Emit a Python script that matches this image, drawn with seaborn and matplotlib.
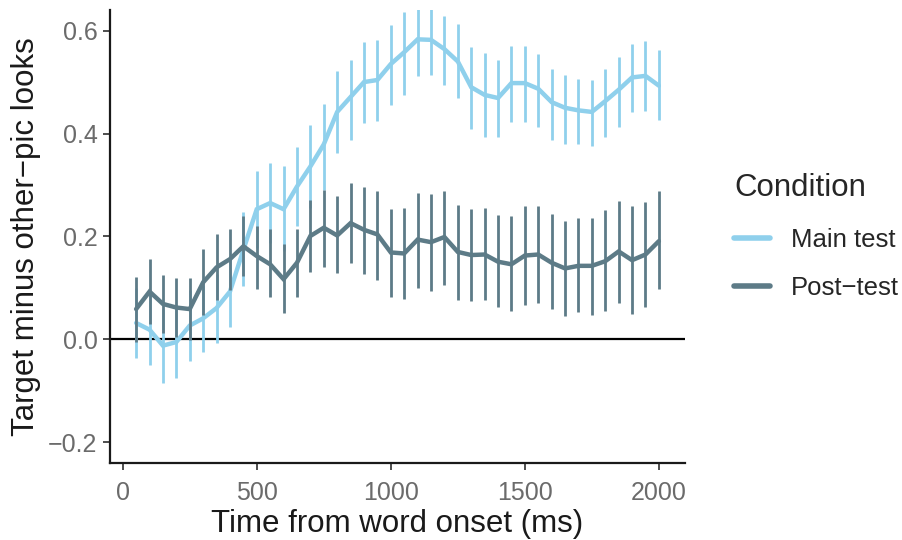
import numpy as np
import pandas as pd
import seaborn as sns
import matplotlib
matplotlib.use("Agg")
import matplotlib.pyplot as plt

# Time bins (ms after word onset)
time_ms = list(range(50, 2001, 50))

conditions = ["Main test", "Post\u2212test"]

main_mean = [0.032, 0.019, -0.012, -0.005, 0.027, 0.041, 0.061, 0.093, 0.174, 0.253,
             0.265, 0.253, 0.297, 0.336, 0.379, 0.442, 0.471, 0.500, 0.504, 0.535,
             0.558, 0.583, 0.582, 0.564, 0.540, 0.490, 0.475, 0.469, 0.498, 0.498,
             0.487, 0.461, 0.450, 0.445, 0.442, 0.463, 0.485, 0.509, 0.512, 0.493]
main_lower = [-0.036, -0.050, -0.084, -0.074, -0.042, -0.024, -0.006, 0.024, 0.103, 0.178,
              0.188, 0.172, 0.220, 0.256, 0.291, 0.363, 0.387, 0.420, 0.424, 0.455,
              0.474, 0.511, 0.514, 0.495, 0.469, 0.408, 0.393, 0.393, 0.422, 0.422,
              0.412, 0.388, 0.379, 0.379, 0.376, 0.393, 0.413, 0.441, 0.443, 0.427]
main_upper = [0.100, 0.088, 0.060, 0.064, 0.096, 0.106, 0.128, 0.162, 0.247, 0.328,
              0.342, 0.337, 0.374, 0.416, 0.458, 0.521, 0.543, 0.577, 0.581, 0.610,
              0.636, 0.641, 0.641, 0.628, 0.612, 0.568, 0.556, 0.543, 0.570, 0.570,
              0.554, 0.525, 0.514, 0.506, 0.504, 0.525, 0.549, 0.574, 0.579, 0.563]

post_mean = [0.059, 0.093, 0.069, 0.062, 0.059, 0.111, 0.140, 0.156, 0.181, 0.162,
             0.146, 0.117, 0.149, 0.201, 0.217, 0.202, 0.226, 0.213, 0.204, 0.169,
             0.167, 0.194, 0.189, 0.199, 0.170, 0.164, 0.165, 0.151, 0.146, 0.163,
             0.165, 0.149, 0.138, 0.143, 0.143, 0.152, 0.171, 0.154, 0.165, 0.191]
post_lower = [-0.004, 0.030, 0.013, 0.004, -0.002, 0.047, 0.076, 0.097, 0.123, 0.098,
              0.082, 0.051, 0.083, 0.131, 0.141, 0.129, 0.148, 0.127, 0.116, 0.083,
              0.078, 0.099, 0.095, 0.105, 0.077, 0.074, 0.077, 0.064, 0.055, 0.066,
              0.071, 0.059, 0.046, 0.053, 0.048, 0.055, 0.070, 0.050, 0.064, 0.098]
post_upper = [0.122, 0.156, 0.125, 0.120, 0.120, 0.175, 0.204, 0.215, 0.239, 0.221,
              0.215, 0.185, 0.215, 0.271, 0.291, 0.278, 0.304, 0.297, 0.289, 0.254,
              0.255, 0.285, 0.282, 0.289, 0.262, 0.254, 0.255, 0.241, 0.239, 0.260,
              0.260, 0.244, 0.231, 0.235, 0.236, 0.251, 0.269, 0.260, 0.267, 0.289]

x_ticks = [0, 500, 1000, 1500, 2000]
y_ticks = [-0.2, 0.0, 0.2, 0.4, 0.6]

palette = {conditions[0]: "#8FD0EC", conditions[1]: "#5D7B87"}

df = pd.concat([
    pd.DataFrame({"time": time_ms, "diff": main_mean, "lo": main_lower,
                  "hi": main_upper, "Condition": conditions[0]}),
    pd.DataFrame({"time": time_ms, "diff": post_mean, "lo": post_lower,
                  "hi": post_upper, "Condition": conditions[1]}),
], ignore_index=True)

sns.set_theme(style="ticks")
plt.rcParams["font.family"] = ["Liberation Sans", "DejaVu Sans"]

fig = plt.figure(figsize=(9.03, 5.40), dpi=100)
ax = fig.add_axes([0.1218, 0.1426, 0.6368, 0.8389])

ax.axhline(0, color="black", lw=1.6, zorder=1)

# error bars per condition, then the mean line on top
for i, cond in enumerate(conditions):
    sub = df[df["Condition"] == cond]
    ax.vlines(sub["time"], sub["lo"], sub["hi"], color=palette[cond],
              lw=2.0, zorder=2 + 2 * i)

sns.lineplot(data=df, x="time", y="diff", hue="Condition", hue_order=conditions,
             palette=palette, lw=3.2, errorbar=None, ax=ax, legend=True)
for i, line in enumerate(ax.get_lines()[1:3]):
    line.set_zorder(3 + 2 * i)
    line.set_solid_joinstyle("miter")

ax.set_xlim(-47.5, 2097.5)
ax.set_ylim(-0.24, 0.64)
ax.set_xticks(x_ticks)
ax.set_yticks(y_ticks)
ax.set_yticklabels([f"{v:.1f}".replace("-", "\u2212") for v in y_ticks])

for side in ("top", "right"):
    ax.spines[side].set_visible(False)
for side in ("left", "bottom"):
    ax.spines[side].set_color("#1a1a1a")
    ax.spines[side].set_linewidth(1.6)

ax.tick_params(axis="both", colors="#4D4D4D", labelsize=18, length=5,
               width=1.4)
ax.tick_params(axis="y", pad=4)
ax.tick_params(axis="x", pad=8)
ax.tick_params(axis="both", labelcolor="#6b6b6b")

ax.set_xlabel("Time from word onset (ms)", fontsize=22.5, color="#1a1a1a", labelpad=3)
ax.set_ylabel("Target minus other\u2212pic looks", fontsize=22.5, color="#1a1a1a",
              labelpad=5)

handles, labels = ax.get_legend_handles_labels()
leg = ax.legend(handles, labels, title="Condition", loc="center left",
                bbox_to_anchor=(1.068, 0.50), frameon=False, fontsize=18.5,
                title_fontsize=22.5, handlelength=1.4, handletextpad=0.8,
                labelspacing=0.95, borderaxespad=0)
leg._legend_box.align = "left"
leg._legend_box.sep = 18
for h in leg.legend_handles:
    h.set_linewidth(4)

fig.savefig("out.png", dpi=100)
